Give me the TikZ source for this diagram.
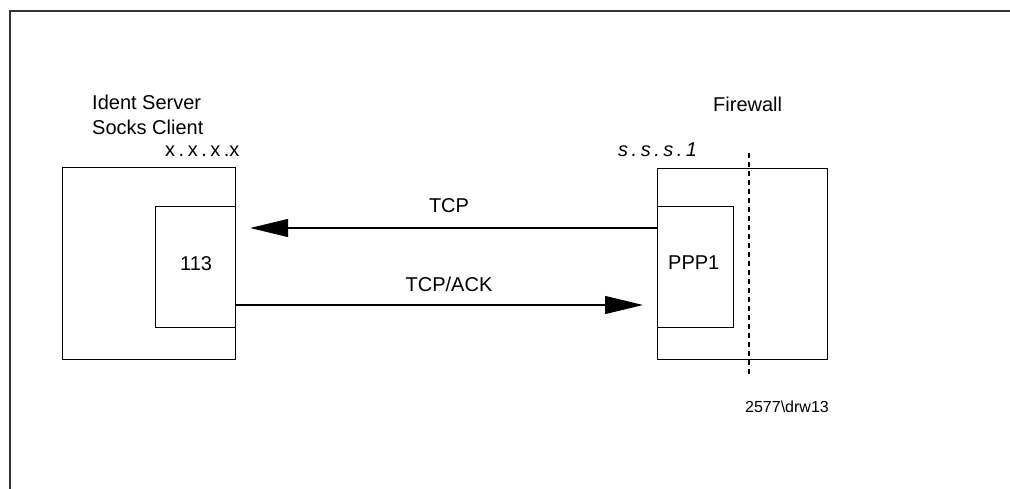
\documentclass[tikz,border=0pt]{standalone}
\usepackage{fontspec}
\setmainfont{Liberation Sans}
\usetikzlibrary{arrows.meta}
\newcommand{\gp}{\hspace{3.5pt}}
\begin{document}
\begin{tikzpicture}[x=1pt,y=-1pt,
  box/.style={draw=black,line width=1.2pt,inner sep=0pt,anchor=north west},
  lbl/.style={font=\fontsize{20}{22}\selectfont,inner sep=0pt},
  arr/.style={line width=1.2pt,-{Triangle[length=38pt,width=18pt]},shorten >=14pt},
  frame/.style={line width=1.8pt,draw=black!80}]
\useasboundingbox (0,0) rectangle (1010,489);
\draw[frame] (10,489) -- (10,11) -- (1010,11);
% boxes
\node[box,minimum width=173pt,minimum height=192pt] (client) at (62,167) {};
\node[box,minimum width=80pt,minimum height=121pt] (port) at (155,206) {};
\node[lbl,anchor=base west] (n113) at (180,271) {113};
\node[box,minimum width=170pt,minimum height=191pt] (fw) at (657,168) {};
\node[box,minimum width=76pt,minimum height=121pt] (ppp) at (657,206) {};
\node[lbl,anchor=base west] (nppp) at (668,270) {PPP1};
% dashed line
\coordinate (dtop) at (749,153);
\coordinate (dbot) at (749,375);
\draw[line width=1.2pt,dash pattern=on 5pt off 4pt] (dtop) -- (dbot);
% labels
\node[lbl,anchor=base west] (ident) at (92,110) {Ident Server};
\node[lbl,anchor=base west] (socks) at (92,135) {Socks Client};
\node[lbl,anchor=base west] (xaddr) at (165,157) {x\gp.\gp x\gp.\gp x\gp.x};
\node[lbl,anchor=base west] (fwl) at (713,112) {Firewall};
\node[lbl,anchor=base west] (saddr) at (618,157) {\itshape s\gp.\gp s\gp.\gp s\gp.\gp 1};
\node[lbl,anchor=base] (tcp) at (449,213) {TCP};
\node[lbl,anchor=base] (tcpack) at (449,292) {TCP/ACK};
\node[font=\fontsize{16}{18}\selectfont,inner sep=0pt,anchor=base west] (drw) at (745,412) {2577\textbackslash drw13};
% connectors
\draw[arr] (ppp.west |- 0,228) -- (port.east |- 0,228);
\draw[arr] (port.east |- 0,305) -- (ppp.west |- 0,305);
\end{tikzpicture}
\end{document}
